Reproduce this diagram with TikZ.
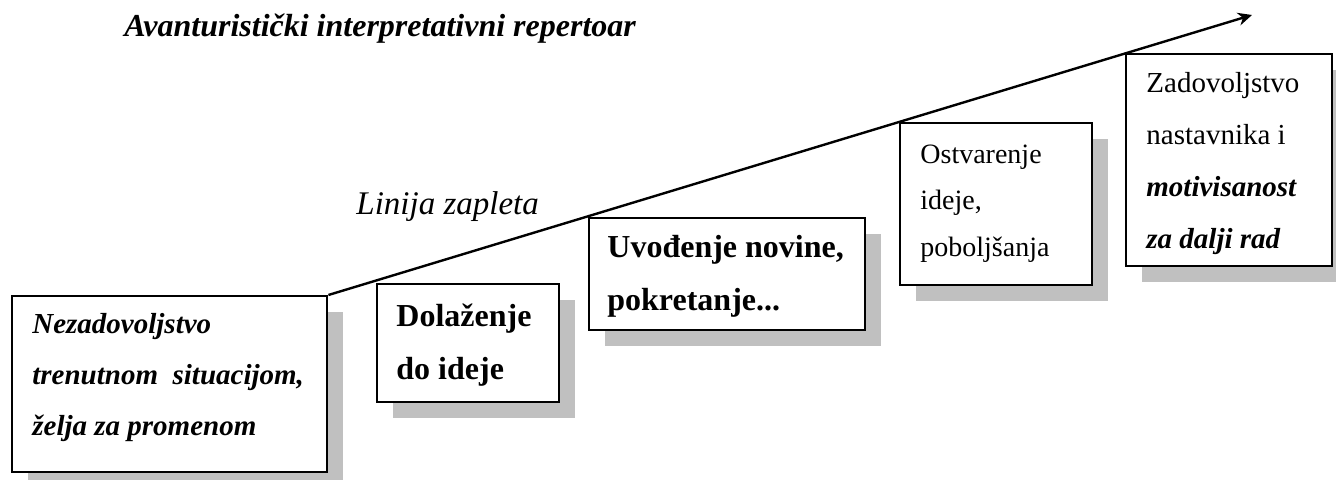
\documentclass[tikz,border=0pt]{standalone}
\usepackage{fontspec}
\setmainfont{Liberation Serif}
\usepackage{tikz}
\usetikzlibrary{arrows.meta, shadows}
\definecolor{shadegray}{RGB}{192, 192, 192}

\begin{document}
\begin{tikzpicture}[x=0.5pt, y=-0.5pt,
  stepbox/.style={draw, line width=1.2pt, fill=white, inner sep=0pt, anchor=north west,
    drop shadow={shadow xshift=8pt, shadow yshift=-8pt, fill=shadegray, opacity=1}},
  steptext/.style={anchor=base west, inner sep=0pt, align=left}]
  \useasboundingbox (0,0) rectangle (1336,480);

  % Title and label of the line
  \node[steptext, font=\fontsize{16}{19}\selectfont\bfseries\itshape] (title) at (124,37) {Avanturistički interpretativni repertoar};
  \node[steptext, font=\fontsize{16.5}{20}\selectfont\itshape] (plot) at (356,215) {Linija zapleta};

  % Steps - boxes with shadow
  \node[stepbox, minimum width=157.5pt, minimum height=88pt] (b1) at (11,295) {};
  \node[stepbox, minimum width=91pt, minimum height=59pt] (b2) at (376,283) {};
  \node[stepbox, minimum width=138pt, minimum height=56pt] (b3) at (588,217) {};
  \node[stepbox, minimum width=96pt, minimum height=81pt] (b4) at (899,122) {};
  \node[stepbox, minimum width=103pt, minimum height=106pt] (b5) at (1125,53) {};

  % Text of the steps (placed by the baseline of the last line)
  \node[steptext, font=\fontsize{14.5}{25.5}\selectfont\bfseries\itshape] (t1) at (32,435)
    {Nezadovoljstvo\\trenutnom\ \ situacijom,\\želja za promenom};
  \node[steptext, font=\fontsize{16}{26}\selectfont\bfseries] (t2) at (396,379)
    {Dolaženje\\do ideje};
  \node[steptext, font=\fontsize{16}{26}\selectfont\bfseries] (t3) at (607,310)
    {Uvođenje novine,\\pokretanje...};
  \node[steptext, font=\fontsize{14}{23.5}\selectfont] (t4) at (920,257)
    {Ostvarenje\\ideje,\\poboljšanja};
  \node[steptext, font=\fontsize{14.5}{26}\selectfont] (t5) at (1146,249)
    {Zadovoljstvo\\nastavnika i\\\textbf{\textit{motivisanost}}\\\textbf{\textit{za dalji rad}}};

  % Line of the plot
  \coordinate (tip) at (1252,15);
  \draw[line width=1.2pt, -{Stealth[length=7pt, width=6.5pt]}] (b1.north east) -- (tip);
\end{tikzpicture}
\end{document}
